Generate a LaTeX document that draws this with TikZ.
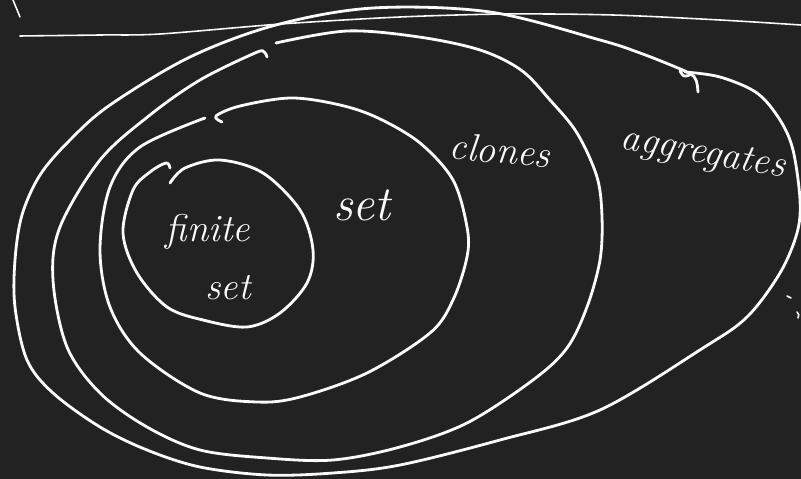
\documentclass[tikz,border=0pt]{standalone}
\usepackage{xcolor}
\usepackage{tikz}
\usetikzlibrary{positioning, calc}
\definecolor{board}{RGB}{34,34,34}
\definecolor{chalk}{RGB}{250,250,250}

\begin{document}
\begin{tikzpicture}[
    x=0.02cm, y=-0.02cm,
    ink/.style={draw=chalk,line width=1.6pt,line cap=round,line join=round},
    thinink/.style={draw=chalk,line width=0.9pt,line cap=round},
    hand/.style={text=chalk,font=\itshape\fontsize{22}{24}\selectfont,inner sep=0pt}
  ]

  % Board
  \path[use as bounding box,fill=board] (0,0) rectangle (801,479);

  % Stray strokes at the top
  \draw[thinink] (13,0) -- (20,17);
  \draw[thinink] plot[smooth,tension=0.5] coordinates {
    (20,36) (100,35) (160,34) (281,24) (400,17) (506,14) (613,15) (720,20) (801,25)};

  % Aggregates (outer ellipse)
  \draw[ink] plot[smooth,tension=0.55] coordinates {
    (685,72) (720,77) (757,93) (780,120) (793,150) (800,200) (797,233)
    (780,273) (747,317) (703,348) (600,410) (500,440) (400,465) (333,473)
    (267,475) (200,467) (147,450) (100,427) (53,393) (27,360) (15,307)
    (15,260) (22,215) (40,175) (70,140) (110,105) (190,57) (276,25)
    (373,8) (490,12) (600,40) (640,53) (678,68) (690,74) (684,76) (680,71)};
  \draw[ink] (690,74) to[out=-20,in=95] (698,92);

  % Clones
  \draw[ink] plot[smooth,tension=0.55] coordinates {
    (276,43) (347,31) (419,37) (480,50) (521,70) (550,100) (577,133)
    (597,177) (602,217) (600,260) (587,307) (567,348) (533,380) (467,423)
    (400,447) (333,460) (267,458) (200,450) (147,427) (100,393) (67,347)
    (53,280) (60,227) (100,160) (150,115) (200,80) (255,53) (264,52) (267,57)};

  % Set
  \draw[ink] plot[smooth,tension=0.55] coordinates {
    (222,122) (216,116) (240,106) (291,98) (340,105) (378,118) (420,143)
    (453,180) (467,227) (467,257) (453,300) (430,333) (367,373) (300,397)
    (257,402) (200,393) (140,353) (110,307) (100,250) (110,187) (140,147)
    (205,118)};

  % Finite set
  \draw[ink] plot[smooth,tension=0.55] coordinates {
    (170,183) (185,168) (220,160) (263,173) (300,210) (313,250) (307,283)
    (280,313) (247,327) (203,320) (167,307) (137,273) (123,233) (133,190)
    (150,172) (166,163) (170,168)};

  % Labels
  \node[hand] (finite) at (208,232) {finite};
  \node[hand] (finiteset) at (228,288) {set};
  \node[hand,font=\itshape\fontsize{28}{30}\selectfont] (set) at (362,205) {set};
  \node[hand,rotate=-5] (clones) at (500,150) {clones};
  \node[hand,rotate=-10] (aggregates) at (703,155) {aggregates};

  % Marks at the right edge
  \draw[thinink] (787,296) -- (791,298);
  \draw[thinink] (797,312) to[out=-30,in=60] (798,318);

\end{tikzpicture}
\end{document}
